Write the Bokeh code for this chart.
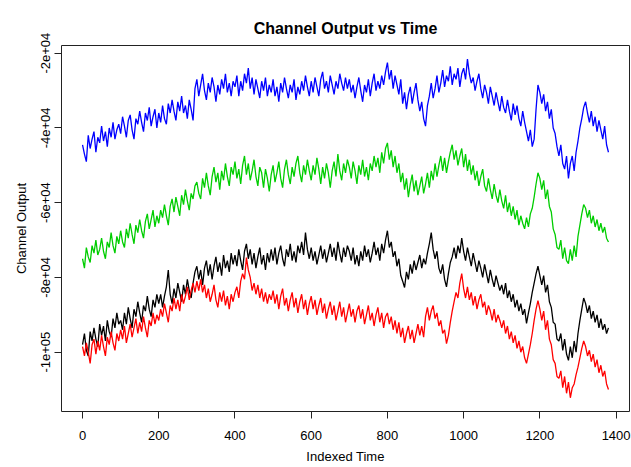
from bokeh.plotting import figure
from bokeh.models import Range1d, FixedTicker, Title
from bokeh.embed import file_html
from bokeh.resources import INLINE

# Indexed time (sampled every 5 steps)
time_index = list(range(0, 1381, 5))

# Channel outputs in thousands (one row = 100 time steps)
blue_k = [
    -44.5, -47.0, -49.0, -42.0, -45.5, -43.0, -41.0, -46.5, -42.5, -44.0, -39.5, -43.5, -41.0, -45.0, -40.0, -42.5, -38.5, -43.0, -40.5, -39.0,
    -41.5, -37.0, -39.5, -42.5, -38.0, -36.5, -40.5, -43.0, -37.5, -39.0, -35.5, -38.5, -41.0, -36.0, -38.0, -34.5, -39.5, -37.0, -35.0, -40.0,
    -36.0, -38.5, -34.0, -37.5, -39.0, -33.5, -36.0, -32.5, -35.5, -38.0, -33.0, -35.5, -31.5, -36.0, -34.0, -37.5, -32.5, -35.0, -38.0, -29.5,
    -27.0, -31.5, -28.5, -25.5, -30.0, -32.5, -28.0, -30.5, -26.5, -29.0, -33.0, -28.5, -31.0, -27.0, -29.5, -25.5, -30.5, -28.0, -31.5, -27.5,
    -29.0, -26.0, -31.5, -27.5, -30.0, -25.5, -28.0, -24.0, -29.5, -26.5, -31.0, -27.0, -29.5, -32.0, -27.5, -30.0, -26.5, -31.5, -28.5, -30.5,
    -27.0, -31.5, -29.0, -33.0, -28.0, -30.5, -26.5, -29.5, -32.0, -28.5, -30.5, -27.0, -32.5, -29.0, -31.0, -27.5, -30.0, -26.0, -29.0, -31.5,
    -27.5, -30.5, -26.5, -29.0, -31.5, -27.0, -25.0, -29.5, -27.5, -30.5, -26.0, -28.5, -31.0, -27.5, -29.5, -25.5, -28.0, -30.0, -26.5, -29.5,
    -27.0, -30.5, -28.5, -32.0, -29.0, -26.5, -30.0, -33.0, -28.5, -30.5, -27.0, -31.5, -28.0, -25.5, -30.0, -27.5, -29.5, -26.0, -28.5, -25.0,
    -22.5, -27.0, -24.5, -29.5, -26.0, -28.5, -31.0, -27.0, -33.5, -30.5, -35.0, -31.0, -29.0, -33.5, -30.5, -28.0, -32.5, -35.5, -33.0, -37.5,
    -39.5, -34.0, -31.5, -28.0, -32.0, -29.5, -26.0, -30.5, -28.0, -24.5, -29.0, -26.0, -27.5, -23.5, -28.5, -25.5, -27.0, -24.0, -29.0, -25.5,
    -24.0, -27.0, -21.6, -25.5, -28.0, -26.5, -30.0, -27.5, -25.5, -29.5, -32.0, -28.5, -30.5, -33.5, -29.0, -31.5, -34.0, -30.5, -33.0, -35.5,
    -31.5, -34.5, -36.0, -32.5, -35.5, -38.0, -33.5, -36.5, -34.0, -37.5, -39.5, -35.5, -38.5, -41.0, -43.5, -40.5, -45.0, -43.0, -35.0, -28.5,
    -30.5, -33.5, -31.0, -35.5, -33.0, -37.5, -35.0, -40.0, -41.5, -45.0, -47.5, -44.5, -49.5, -51.0, -47.5, -53.5, -49.5, -47.5, -51.5, -46.5,
    -43.5, -40.0, -37.5, -34.5, -33.0, -36.0, -38.5, -35.5, -39.5, -37.0, -41.0, -38.0, -40.5, -43.0, -39.5, -44.5, -46.5,
]
green_k = [
    -75.0, -77.5, -72.0, -74.5, -76.0, -71.5, -73.5, -70.0, -74.0, -72.5, -69.5, -73.0, -75.0, -70.5, -72.0, -68.0, -71.5, -73.5, -69.0, -71.0,
    -67.5, -70.5, -72.0, -67.0, -69.5, -65.5, -68.5, -71.0, -66.0, -68.0, -64.5, -67.5, -69.5, -65.0, -63.0, -67.0, -64.5, -62.0, -66.5, -63.5,
    -65.5, -62.0, -64.0, -60.5, -63.5, -66.0, -61.0, -59.0, -62.5, -58.5, -61.0, -63.5, -58.0, -60.5, -56.5, -59.5, -62.0, -57.5, -59.0, -55.5,
    -54.5, -57.5, -59.0, -53.5, -56.0, -52.0, -55.5, -58.0, -53.0, -50.5, -54.5, -52.0, -56.5, -51.5, -54.0, -49.5, -53.0, -55.5, -50.5, -52.5,
    -49.0, -53.5, -51.0, -55.0, -50.0, -47.5, -52.5, -49.5, -54.0, -51.5, -48.5, -53.0, -55.5, -50.5, -52.0, -56.0, -51.0, -53.5, -57.0, -52.5,
    -50.0, -54.5, -52.0, -49.0, -53.5, -56.0, -51.0, -48.5, -52.5, -55.0, -50.5, -53.0, -49.5, -47.5, -52.0, -54.5, -50.0, -52.5, -48.5, -51.5,
    -54.0, -50.0, -52.5, -48.0, -51.0, -55.0, -50.5, -53.5, -49.5, -52.0, -56.0, -51.5, -49.0, -53.0, -47.0, -51.5, -54.0, -49.5, -52.0, -48.5,
    -50.5, -53.5, -49.0, -51.5, -55.0, -50.0, -52.5, -48.5, -53.0, -50.5, -54.0, -49.5, -51.5, -47.5, -50.5, -48.0, -52.0, -46.5, -49.5, -45.5,
    -44.0, -48.5, -46.0, -50.5, -47.5, -52.0, -49.5, -54.5, -52.0, -56.5, -53.5, -58.5, -55.0, -52.5, -57.0, -54.0, -58.0, -55.5, -53.0, -57.5,
    -55.0, -52.0, -56.0, -51.5, -54.0, -49.5, -53.0, -50.0, -47.5, -51.5, -48.0, -52.0, -49.0, -46.5, -44.5, -48.5, -46.0, -50.0, -47.5, -45.5,
    -50.5, -47.0, -51.5, -48.5, -52.5, -50.0, -54.0, -51.5, -55.5, -53.0, -51.0, -55.5, -57.0, -53.5, -56.5, -59.0, -55.0, -58.0, -60.0, -56.5,
    -59.5, -61.5, -58.0, -62.5, -60.0, -63.5, -61.0, -64.5, -62.0, -66.0, -63.5, -65.5, -67.0, -64.0, -66.5, -63.0, -61.5, -58.5, -55.0, -52.0,
    -53.5, -56.5, -54.0, -59.0, -56.5, -61.0, -62.5, -67.0, -68.5, -72.0, -72.5, -70.0, -75.0, -72.0, -75.5, -76.3, -72.5, -75.5, -71.5, -74.5,
    -69.0, -66.0, -63.0, -60.5, -61.5, -64.0, -62.0, -65.5, -63.5, -66.5, -64.5, -67.5, -65.5, -68.0, -66.5, -69.5, -70.5,
]
black_k = [
    -98.0, -95.0, -99.5, -101.0, -94.5, -97.0, -93.5, -96.5, -98.5, -92.5, -95.5, -93.0, -97.0, -91.5, -94.5, -96.0, -91.0, -93.5, -89.5, -92.5,
    -91.5, -94.0, -89.5, -92.5, -88.0, -91.0, -93.5, -88.5, -90.5, -86.5, -89.5, -92.0, -87.5, -89.0, -85.0, -88.5, -90.5, -86.0, -88.0, -84.5,
    -87.0, -84.5, -88.0, -85.0, -82.5, -78.0, -84.5, -87.0, -83.0, -85.5, -81.5, -84.0, -86.5, -82.0, -84.5, -80.5, -83.5, -85.5, -81.5, -78.5,
    -77.0, -80.5, -78.0, -82.0, -77.5, -75.5, -79.5, -76.5, -80.5, -77.0, -74.5, -78.5, -76.0, -79.5, -74.0, -77.5, -75.5, -78.5, -73.5, -76.5,
    -74.0, -77.0, -72.5, -75.5, -78.0, -73.0, -71.0, -75.0, -72.5, -76.5, -73.5, -77.5, -74.5, -72.0, -76.5, -74.0, -78.0, -73.5, -76.0, -72.5,
    -75.5, -72.0, -76.5, -73.5, -71.5, -75.0, -77.0, -72.5, -74.5, -71.0, -75.5, -73.0, -76.0, -71.5, -73.5, -70.5, -74.0, -68.0, -72.5, -75.0,
    -72.0, -75.5, -73.0, -76.5, -74.0, -71.5, -75.0, -72.5, -76.0, -73.5, -71.0, -74.5, -72.0, -75.5, -70.5, -73.5, -76.0, -72.0, -74.5, -71.5,
    -73.0, -75.5, -72.0, -76.5, -74.0, -77.0, -73.0, -75.5, -71.5, -74.5, -72.5, -76.0, -73.5, -70.5, -74.0, -72.0, -75.5, -71.0, -73.5, -70.0,
    -67.5, -72.0, -70.5, -74.5, -73.0, -77.0, -75.0, -79.5, -81.0, -82.7, -78.5, -80.5, -76.5, -79.0, -75.5, -78.0, -76.0, -74.0, -77.5, -75.0,
    -76.5, -73.5, -71.0, -68.0, -72.5, -75.0, -73.0, -77.5, -79.0, -76.5, -80.5, -82.5, -79.0, -76.0, -74.5, -72.0, -75.0, -71.5, -73.5, -69.5,
    -73.0, -75.5, -72.0, -74.5, -77.0, -73.5, -76.0, -78.5, -75.5, -77.5, -80.0, -76.5, -79.0, -81.5, -78.0, -80.5, -82.5, -79.5, -81.5, -83.5,
    -82.0, -84.5, -81.5, -85.5, -83.5, -86.5, -84.5, -88.0, -86.0, -89.0, -87.0, -90.0, -88.5, -92.3, -89.5, -87.0, -84.0, -81.5, -79.0, -77.0,
    -79.5, -82.0, -79.5, -84.0, -82.0, -86.5, -88.0, -92.0, -92.5, -96.5, -97.0, -95.0, -99.5, -96.5, -100.5, -102.2, -98.5, -101.5, -97.0, -100.0,
    -95.0, -91.5, -88.5, -85.5, -87.0, -89.5, -87.5, -91.0, -89.0, -92.0, -90.0, -93.5, -91.0, -94.0, -92.5, -95.0, -93.5,
]
red_k = [
    -98.5, -101.0, -97.5, -100.0, -103.0, -98.0, -96.5, -100.5, -97.0, -99.5, -95.5, -98.5, -101.0, -96.0, -98.0, -94.5, -97.5, -99.5, -95.0, -97.0,
    -94.0, -96.5, -93.0, -97.5, -95.0, -92.5, -96.0, -93.5, -91.0, -95.0, -92.0, -94.5, -90.5, -93.5, -96.0, -91.5, -93.0, -89.5, -92.5, -90.0,
    -91.5, -88.5, -90.5, -87.0, -89.5, -92.0, -87.5, -89.0, -85.5, -88.5, -86.0, -89.0, -84.5, -87.0, -85.0, -82.5, -86.0, -83.5, -81.5, -84.0,
    -81.0, -83.5, -80.5, -84.0, -82.0, -85.5, -83.0, -86.5, -84.5, -82.0, -86.0, -88.0, -84.0, -86.5, -83.5, -87.5, -85.0, -88.5, -84.5, -86.5,
    -84.0, -82.5, -85.5, -81.0, -79.0, -80.5, -74.7, -78.0, -80.0, -83.5, -81.5, -84.5, -82.0, -85.5, -83.0, -86.5, -84.0, -87.0, -84.5, -86.0,
    -83.5, -87.0, -84.5, -88.5, -85.0, -83.0, -87.5, -85.5, -89.0, -86.0, -84.0, -88.0, -85.5, -89.5, -86.5, -84.5, -88.5, -86.0, -90.0, -87.0,
    -85.0, -88.5, -86.0, -90.0, -87.5, -85.5, -89.5, -87.0, -91.0, -88.5, -86.5, -90.0, -87.5, -91.5, -89.0, -86.5, -90.5, -88.0, -92.0, -89.5,
    -87.0, -90.5, -88.5, -92.0, -89.0, -87.5, -91.0, -88.5, -92.5, -90.0, -87.5, -91.5, -89.5, -93.0, -90.0, -88.0, -92.0, -89.5, -93.5, -90.5,
    -89.5, -92.5, -90.5, -94.0, -91.5, -95.0, -92.0, -96.0, -93.5, -97.5, -95.0, -93.0, -96.5, -94.0, -97.5, -95.0, -92.5, -95.5, -93.0, -96.0,
    -90.5, -88.0, -91.5, -89.0, -87.5, -91.0, -89.5, -93.0, -91.5, -95.0, -94.0, -97.7, -95.5, -92.0, -89.0, -86.5, -84.0, -85.5, -81.5, -79.0,
    -83.0, -85.5, -82.5, -86.0, -84.0, -87.5, -85.0, -88.5, -86.0, -84.5, -88.0, -86.5, -90.0, -87.5, -89.0, -91.5, -88.5, -92.0, -90.0, -91.5,
    -93.5, -91.5, -95.0, -93.0, -96.5, -94.5, -97.5, -95.5, -99.0, -97.0, -100.0, -98.5, -101.5, -103.0, -100.5, -98.0, -95.0, -91.5, -88.5, -86.2,
    -88.5, -91.5, -89.0, -94.0, -91.5, -96.5, -98.0, -102.0, -103.0, -106.5, -107.0, -105.0, -109.5, -106.5, -111.0, -108.0, -112.2, -109.5, -108.5, -106.0,
    -104.0, -101.5, -99.0, -97.0, -98.5, -101.0, -99.5, -102.5, -100.5, -104.0, -102.0, -105.5, -103.5, -106.5, -105.0, -108.5, -110.0,
]

x_ticks = [0, 200, 400, 600, 800, 1000, 1200, 1400]
y_ticks = [-100000, -80000, -60000, -40000, -20000]
y_tick_labels = ["-1e+05", "-8e+04", "-6e+04", "-4e+04", "-2e+04"]
title_text = "Channel Output vs Time"

FONT = "Liberation Sans"

p = figure(width=631, height=467,
           x_range=Range1d(-55.2, 1435.2), y_range=Range1d(-115870, -17940),
           output_backend="svg", toolbar_location=None,
           min_border_left=61, min_border_right=2,
           min_border_top=45, min_border_bottom=56)
p.background_fill_color = "white"
p.border_fill_color = "white"
p.outline_line_color = "#222222"
p.outline_line_width = 1
p.grid.visible = False

# spacer title next to the frame, then the real title outside it
p.add_layout(Title(text=" ", text_font_size="2px", standoff=0), "above")
p.add_layout(Title(text=title_text, text_font=FONT, text_font_size="16px",
                   text_font_style="bold", text_color="black", align="center"), "above")

series = [(black_k, "black"), (red_k, "#FF0000"), (green_k, "#00CD00"), (blue_k, "#0000FF")]
for vals, col in series:
    p.line(time_index[:len(vals)], [v * 1000 for v in vals], line_color=col, line_width=1.3)

for ax in (p.xaxis[0], p.yaxis[0]):
    ax.axis_line_color = None
    ax.major_tick_out = 7
    ax.major_tick_in = 0
    ax.minor_tick_line_color = None
    ax.major_tick_line_color = "#222222"
    ax.major_label_text_font = FONT
    ax.major_label_text_font_size = "13px"
    ax.major_label_text_color = "black"
    ax.axis_label_text_font = FONT
    ax.axis_label_text_font_size = "13px"
    ax.axis_label_text_font_style = "normal"
    ax.axis_label_text_color = "black"

p.xaxis.ticker = FixedTicker(ticks=x_ticks)
p.xaxis.axis_label = "Indexed Time"
p.xaxis.major_label_standoff = 12
p.xaxis.axis_label_standoff = 6

p.yaxis.ticker = FixedTicker(ticks=y_ticks)
p.yaxis.major_label_overrides = {t: l for t, l in zip(y_ticks, y_tick_labels)}
p.yaxis.major_label_orientation = "vertical"
p.yaxis.axis_label = "Channel Output"
p.yaxis.major_label_standoff = 4
p.yaxis.axis_label_standoff = 10

open("out.html", "w").write(file_html(p, INLINE))
